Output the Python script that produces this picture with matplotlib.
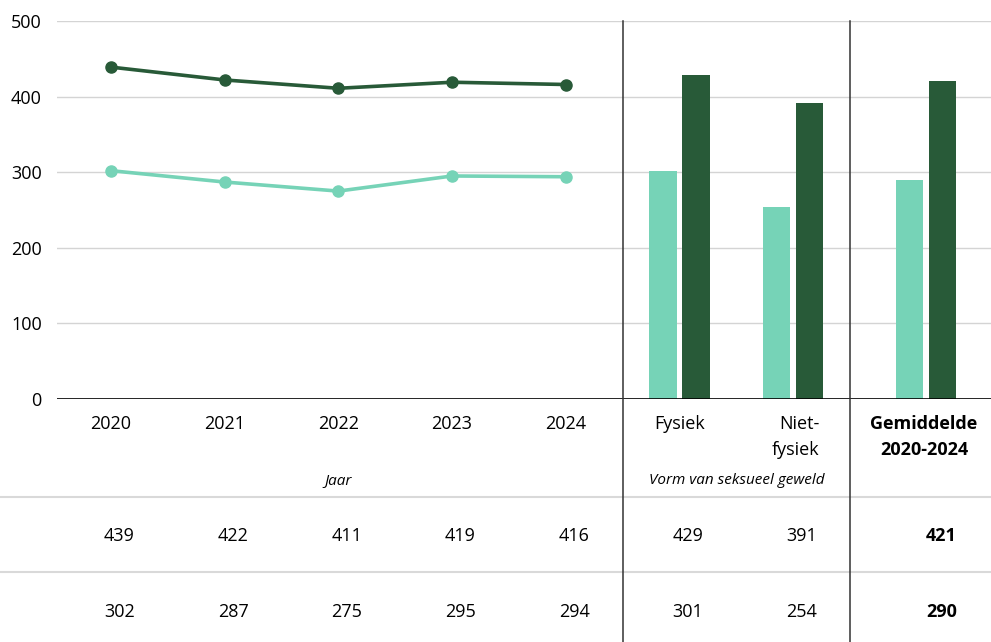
import matplotlib
matplotlib.use("Agg")
import matplotlib.pyplot as plt
from matplotlib.transforms import blended_transform_factory
from matplotlib.lines import Line2D

plt.rcParams["font.family"] = ["Open Sans", "DejaVu Sans"]

# Data
years = ["2020", "2021", "2022", "2023", "2024"]
dark_years = [439, 422, 411, 419, 416]
light_years = [302, 287, 275, 295, 294]

forms = ["Fysiek", "Niet-\nfysiek"]
dark_forms = [429, 391]
light_forms = [301, 254]

avg_label = "Gemiddelde\n2020-2024"
dark_avg = 421
light_avg = 290

y_ticks = [0, 100, 200, 300, 400, 500]

DARK = "#285a38"
LIGHT = "#76d3b7"

W, H = 991, 642
fig = plt.figure(figsize=(W / 100, H / 100), dpi=100)
ax = fig.add_axes([57 / W, (H - 399) / H, (W - 57) / W, 378 / H])

x_years = list(range(len(years)))
x_forms = [5, 6]
x_avg = 7.17

ax.set_xlim(-0.475, 7.74)
ax.set_ylim(0, 500)

# gridlines
for t in y_ticks[1:]:
    ax.axhline(t, color="#d4d4d4", lw=1.0, zorder=0)
ax.axhline(0, color="black", lw=1.2, zorder=3)

# lines over the years
ax.plot(x_years, dark_years, color=DARK, lw=2.6, marker="o", ms=8, zorder=4)
ax.plot(x_years, light_years, color=LIGHT, lw=2.6, marker="o", ms=8, zorder=4)

# bars
bw = 0.24
off = 0.145
ax.bar([x - off for x in x_forms], light_forms, width=bw, color=LIGHT, zorder=2)
ax.bar([x + off for x in x_forms], dark_forms, width=bw, color=DARK, zorder=2)
ax.bar([x_avg - off], [light_avg], width=bw, color=LIGHT, zorder=2)
ax.bar([x_avg + off], [dark_avg], width=bw, color=DARK, zorder=2)

for s in ax.spines.values():
    s.set_visible(False)
ax.set_xticks([])
ax.set_yticks(y_ticks)
ax.tick_params(axis="y", length=0, pad=11, labelsize=13)

# mixed transform: x in data units, y in figure pixels from the top
tr = blended_transform_factory(ax.transData, fig.transFigure)
def fy(py):
    return 1 - py / H

# section separators
for xs in (4.5, 6.5):
    fig.add_artist(Line2D([xs, xs], [fy(21), fy(642)], transform=tr,
                          color="#333333", lw=1.1, zorder=5))

# table row separators
for py in (497, 572):
    fig.add_artist(Line2D([0, 1], [fy(py), fy(py)], transform=fig.transFigure,
                          color="#d9d9d9", lw=1.5))

# category labels
for x, lab in zip(x_years, years):
    ax.text(x, fy(424), lab, transform=tr, ha="center", va="center", fontsize=13)
ax.text(x_forms[0], fy(424), "Fysiek", transform=tr, ha="center", va="center", fontsize=13)
ax.text(x_forms[1] + 0.23, fy(424), "Niet-", transform=tr, ha="right", va="center", fontsize=13)
ax.text(x_forms[1] + 0.23, fy(450), "fysiek", transform=tr, ha="right", va="center", fontsize=13)
a1, a2 = avg_label.split("\n")
ax.text(x_avg - 0.02, fy(424), a1, transform=tr, ha="center", va="center", fontsize=13, fontweight="bold")
ax.text(x_avg - 0.02, fy(450), a2, transform=tr, ha="center", va="center", fontsize=13, fontweight="bold")

# group captions
ax.text(2, fy(481), "Jaar", transform=tr, ha="center", va="center", fontsize=11, style="italic")
ax.text(5.5, fy(481), "Vorm van seksueel geweld", transform=tr, ha="center", va="center",
        fontsize=11, style="italic")

# value table
cols = x_years + x_forms
for x, d, l in zip(cols, dark_years + dark_forms, light_years + light_forms):
    ax.text(x + 0.21, fy(536), str(d), transform=tr, ha="right", va="center", fontsize=13)
    ax.text(x + 0.21, fy(612), str(l), transform=tr, ha="right", va="center", fontsize=13)
ax.text(x_avg + 0.27, fy(536), str(dark_avg), transform=tr, ha="right", va="center",
        fontsize=13, fontweight="bold")
ax.text(x_avg + 0.27, fy(612), str(light_avg), transform=tr, ha="right", va="center",
        fontsize=13, fontweight="bold")

fig.savefig("out.png", dpi=100)
